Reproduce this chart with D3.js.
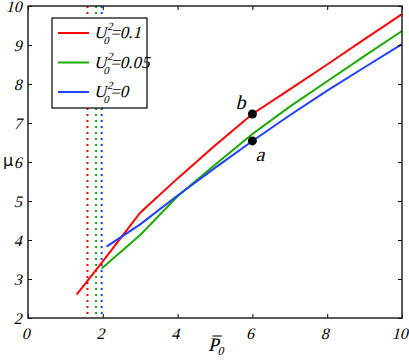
<!DOCTYPE html>
<html>
<head>
<meta charset="utf-8">
<script src="https://cdn.jsdelivr.net/npm/d3@7"></script>
<style>
  body { margin: 0; background: #fff; }
</style>
</head>
<body>
<div id="chart"></div>
<script>
// data
var redX = [1.3, 2, 3, 4, 5, 6, 7, 8, 9, 10];
var redY = [2.6, 3.45, 4.7, 5.58, 6.42, 7.23, 7.86, 8.5, 9.15, 9.79];
var greenX = [1.97, 3, 4, 5, 6, 7, 8, 9, 10];
var greenY = [3.27, 4.13, 5.12, 5.93, 6.72, 7.42, 8.07, 8.72, 9.36];
var blueX = [2.1, 3, 4, 5, 6, 7, 8, 9, 10];
var blueY = [3.83, 4.4, 5.14, 5.85, 6.54, 7.2, 7.83, 8.43, 9.02];
var thresholds = [1.59, 1.82, 1.97];
var seriesNames = ["0.1", "0.05", "0"];
var colors = ["#ff0000", "#1aaa00", "#2040ff"];
var pointX = [6, 6];
var pointY = [6.54, 7.23];
var pointLabels = ["a", "b"];
var xTicks = [0, 2, 4, 6, 8, 10];
var yTicks = [2, 3, 4, 5, 6, 7, 8, 9, 10];

var serif = "Liberation Serif";

// the italic face is not there, so lean the upright one instead
function lean(sel) {
  sel.each(function() {
    var t = d3.select(this);
    var tx = +t.attr("x") || 0, ty = +t.attr("y") || 0;
    t.attr("x", 0).attr("y", 0)
      .attr("transform", "translate(" + tx + "," + ty + ") skewX(-14)")
      .style("font-family", serif).style("font-style", "normal");
  });
}

var W = 409, H = 360;
var margin = {top: 6, right: 7, bottom: 42, left: 28};
var width = W - margin.left - margin.right;
var height = H - margin.top - margin.bottom;

var svg = d3.select("#chart").append("svg")
    .attr("width", W).attr("height", H)
  .append("g")
    .attr("transform", "translate(" + margin.left + "," + margin.top + ")");

var x = d3.scaleLinear().domain([0, 10]).range([0, width]);
var y = d3.scaleLinear().domain([2, 10]).range([height, 0]);

// dotted verticals
svg.selectAll(".thr").data(thresholds).enter().append("line")
    .attr("x1", d => x(d)).attr("x2", d => x(d))
    .attr("y1", 0).attr("y2", height)
    .attr("stroke", (d, i) => colors[i])
    .attr("stroke-width", 2)
    .attr("stroke-dasharray", "2,4");

// curves
var line = d3.line().x(d => x(d[0])).y(d => y(d[1]));
var series = [
  d3.zip(redX, redY),
  d3.zip(greenX, greenY),
  d3.zip(blueX, blueY)
];
svg.selectAll(".curve").data(series).enter().append("path")
    .attr("d", line)
    .attr("fill", "none")
    .attr("stroke", (d, i) => colors[i])
    .attr("stroke-width", 2);

// axes box with inward ticks
function styleAxis(g) {
  g.select(".domain").remove();
  g.selectAll(".tick line").attr("stroke", "#000").attr("stroke-width", 1);
  g.selectAll("text").style("font-size", "16px").attr("fill", "#000").call(lean);
}
svg.append("g").attr("transform", "translate(0," + height + ")")
    .call(d3.axisBottom(x).tickValues(xTicks).tickSize(-4).tickPadding(10).tickFormat(d3.format("d")))
    .call(styleAxis);
svg.append("g")
    .call(d3.axisTop(x).tickValues(xTicks).tickSize(-4).tickFormat(""))
    .call(styleAxis);
svg.append("g")
    .call(d3.axisLeft(y).tickValues(yTicks).tickSize(-4).tickPadding(5).tickFormat(d3.format("d")))
    .call(styleAxis);
svg.append("g").attr("transform", "translate(" + width + ",0)")
    .call(d3.axisRight(y).tickValues(yTicks).tickSize(-4).tickFormat(""))
    .call(styleAxis);
svg.append("rect")
    .attr("width", width).attr("height", height)
    .attr("fill", "none").attr("stroke", "#222").attr("stroke-width", 1.5);

// points a, b
svg.selectAll(".pt").data(pointX).enter().append("circle")
    .attr("cx", d => x(d))
    .attr("cy", (d, i) => y(pointY[i]))
    .attr("r", 4.5).attr("fill", "#000");
svg.append("text").attr("x", x(pointX[0]) + 3).attr("y", y(pointY[0]) + 20)
    .style("font-size", "20px").text(pointLabels[0]).call(lean);
svg.append("text").attr("x", x(pointX[1]) - 17).attr("y", y(pointY[1]) - 5)
    .style("font-size", "20px").text(pointLabels[1]).call(lean);

// axis titles
svg.append("text")
    .attr("x", -25).attr("y", y(5.9))
    .style("font-family", "'DejaVu Sans', sans-serif").style("font-size", "16px")
    .text("\u03bc");
var xt = svg.append("text").attr("x", 180).attr("y", height + 33)
    .style("font-size", "19px");
xt.append("tspan").text("P\u0305");
xt.append("tspan").attr("dy", 4).style("font-size", "12px").text("0");
xt.call(lean);

// legend
var leg = svg.append("g").attr("transform", "translate(24,12)");
leg.append("rect").attr("width", 95).attr("height", 90)
    .attr("fill", "#fff").attr("stroke", "#000").attr("stroke-width", 1.2);
seriesNames.forEach(function(name, i) {
  var yy = 15 + i * 29.5;
  leg.append("line").attr("x1", 6).attr("x2", 37).attr("y1", yy).attr("y2", yy)
      .attr("stroke", colors[i]).attr("stroke-width", 2);
  var t = leg.append("text").attr("x", 42).attr("y", yy + 5).style("font-size", "17px");
  t.append("tspan").text("U");
  t.append("tspan").attr("dx", -1).attr("dy", -8).style("font-size", "11px").text("2");
  t.append("tspan").attr("dx", -6).attr("dy", 14).style("font-size", "11px").text("0");
  t.append("tspan").attr("dy", -6).text("=" + name);
  t.call(lean);
});
</script>
</body>
</html>
